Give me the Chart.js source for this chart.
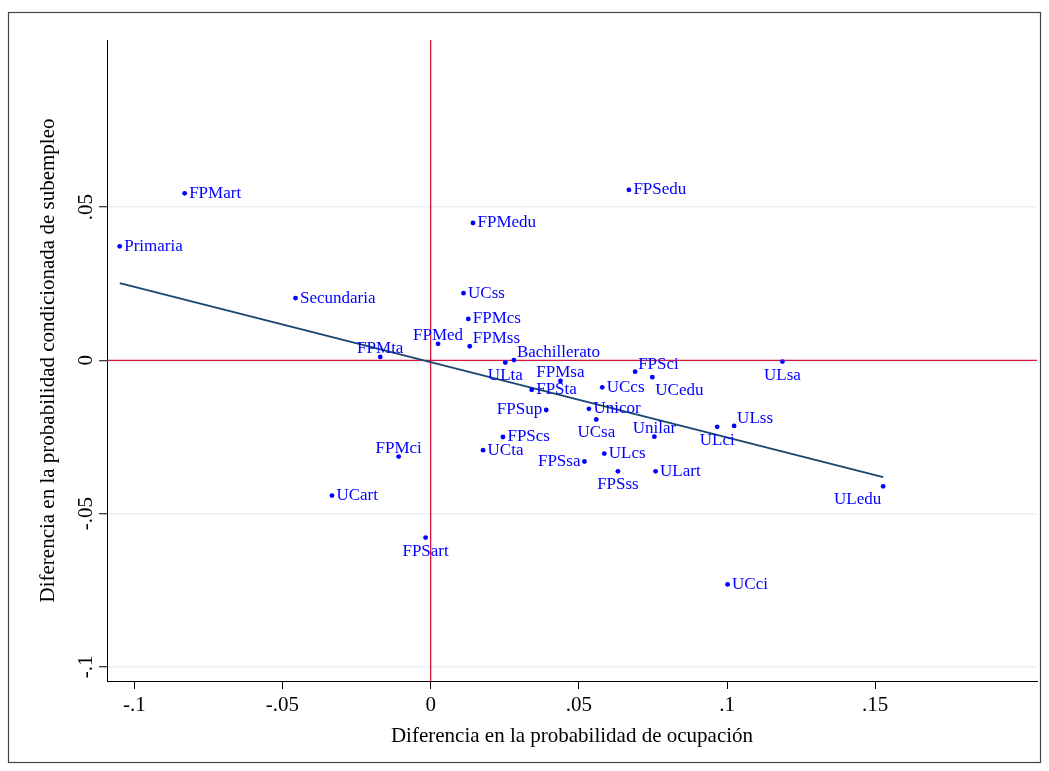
<!DOCTYPE html>
<html>
<head>
<meta charset="utf-8">
<script src="https://cdn.jsdelivr.net/npm/chart.js@4.4.1/dist/chart.umd.min.js"></script>
<style>
  html, body { margin: 0; padding: 0; background: #fff; }
  #wrap { width: 1049px; height: 771px; }
</style>
</head>
<body>
<div id="wrap"><canvas id="scatterChart" width="1049" height="771"></canvas></div>
<script>
// data
const categories = ['Primaria', 'FPMart', 'Secundaria', 'FPMta', 'FPMed', 'FPMedu', 'UCss', 'FPMcs', 'FPMss',
  'ULta', 'Bachillerato', 'FPSedu', 'FPSci', 'UCedu', 'FPMsa', 'FPSta', 'UCcs', 'FPSup', 'Unicor', 'UCsa',
  'FPScs', 'UCta', 'FPMci', 'UCart', 'FPSsa', 'ULcs', 'FPSss', 'Unilar', 'ULart', 'ULsa', 'ULci', 'ULss',
  'ULedu', 'FPSart', 'UCci'];
const occDiff = [-0.1049, -0.0830, -0.0456, -0.0170, 0.0025, 0.0143, 0.0111, 0.0127, 0.0132,
  0.0252, 0.0281, 0.0669, 0.0690, 0.0748, 0.0438, 0.0341, 0.0579, 0.0390, 0.0534, 0.0559,
  0.0244, 0.0177, -0.0108, -0.0333, 0.0519, 0.0586, 0.0632, 0.0755, 0.0759, 0.1187, 0.0967, 0.1024,
  0.1527, -0.0017, 0.1002];
const subDiff = [0.0372, 0.0545, 0.0203, 0.0011, 0.0054, 0.0448, 0.0219, 0.0135, 0.0046,
  -0.0007, 0.0001, 0.0556, -0.0037, -0.0055, -0.0067, -0.0096, -0.0088, -0.0162, -0.0158, -0.0193,
  -0.0250, -0.0293, -0.0314, -0.0441, -0.0330, -0.0304, -0.0362, -0.0249, -0.0362, -0.0004, -0.0217, -0.0214,
  -0.0411, -0.0578, -0.0731];
// fitted line end points
const fitX = [-0.1049, 0.1527];
const fitY = [0.0252, -0.0381];
const xTicks = [-0.1, -0.05, 0, 0.05, 0.1, 0.15];
const yTicks = [-0.1, -0.05, 0, 0.05];
const xRange = [-0.1092, 0.2046];
const yRange = [-0.1046, 0.1045];

// label clock positions (Stata style), default 3 o'clock
const labelPos = {
  FPMta: 12, FPMed: 12, FPMsa: 12, FPMci: 12, Unilar: 12,
  ULta: 6, UCsa: 6, FPSss: 6, ULsa: 6, ULci: 6, FPSart: 6,
  FPMss: 2, Bachillerato: 2, FPSci: 2, ULss: 2,
  UCedu: 5, ULedu: 7, FPSup: 9, FPSsa: 9
};

const blue = '#0000ff';
const red = '#d4143c';
const serif = '"Liberation Serif", "Times New Roman", serif';

function fmtTick(v) {
  if (v === 0) return '0';
  return (v < 0 ? '-' : '') + String(Math.abs(v)).replace(/^0/, '');
}

const framePlugin = {
  id: 'frame',
  beforeDraw(chart) {
    const ctx = chart.ctx;
    ctx.save();
    ctx.fillStyle = '#fff';
    ctx.fillRect(0, 0, chart.width, chart.height);
    ctx.strokeStyle = '#444';
    ctx.lineWidth = 1.2;
    ctx.strokeRect(8.5, 12.5, 1032, 750);
    ctx.restore();
  }
};

const labelPlugin = {
  id: 'pointLabels',
  afterDatasetsDraw(chart) {
    const ctx = chart.ctx;
    const xs = chart.scales.x, ys = chart.scales.y;
    ctx.save();
    ctx.font = '17px ' + serif;
    ctx.fillStyle = blue;
    ctx.textBaseline = 'middle';
    categories.forEach((name, i) => {
      const px = xs.getPixelForValue(occDiff[i]);
      const py = ys.getPixelForValue(subDiff[i]);
      const pos = labelPos[name] || 3;
      let tx = px, ty = py, align = 'left';
      if (pos === 3) { tx = px + 4.5; }
      else if (pos === 9) { tx = px - 4; align = 'right'; }
      else if (pos === 12) { align = 'center'; ty = py - 8.5; }
      else if (pos === 6) { align = 'center'; ty = py + 13.5; }
      else if (pos === 2) { tx = px + 3; ty = py - 7.5; }
      else if (pos === 5) { tx = px + 3; ty = py + 13; }
      else if (pos === 7) { tx = px - 2; ty = py + 13; align = 'right'; }
      ctx.textAlign = align;
      ctx.fillText(name, tx, ty);
    });
    // rotated y tick labels
    ctx.font = '21px ' + serif;
    ctx.fillStyle = '#000';
    ctx.textAlign = 'center';
    ctx.textBaseline = 'middle';
    yTicks.forEach(v => {
      const py = ys.getPixelForValue(v);
      ctx.save();
      ctx.translate(86, py);
      ctx.rotate(-Math.PI / 2);
      ctx.fillText(fmtTick(v), 0, 0);
      ctx.restore();
    });
    ctx.restore();
  }
};

window.addEventListener('load', function() {
  const ctx = document.getElementById('scatterChart').getContext('2d');
  new Chart(ctx, {
    type: 'scatter',
    data: {
      datasets: [
        {
          label: 'puntos',
          data: categories.map((c, i) => ({ x: occDiff[i], y: subDiff[i] })),
          pointRadius: 2.4,
          pointHoverRadius: 2.4,
          backgroundColor: blue,
          borderWidth: 0
        },
        {
          label: 'ajuste',
          type: 'line',
          data: fitX.map((v, i) => ({ x: v, y: fitY[i] })),
          borderColor: '#1a476f',
          borderWidth: 2,
          pointRadius: 0,
          fill: false
        },
        {
          label: 'x0',
          type: 'line',
          data: [{ x: 0, y: yRange[0] }, { x: 0, y: yRange[1] }],
          borderColor: red,
          borderWidth: 1.3,
          pointRadius: 0,
          fill: false
        },
        {
          label: 'y0',
          type: 'line',
          data: [{ x: xRange[0], y: 0 }, { x: xRange[1], y: 0 }],
          borderColor: red,
          borderWidth: 1.3,
          pointRadius: 0,
          fill: false
        }
      ]
    },
    options: {
      responsive: false,
      animation: false,
      layout: { padding: { left: 0, top: 40, right: 12, bottom: 0 } },
      plugins: {
        legend: { display: false },
        tooltip: { enabled: false }
      },
      scales: {
        x: {
          type: 'linear',
          min: xRange[0],
          max: xRange[1],
          afterBuildTicks: s => { s.ticks = xTicks.map(v => ({ value: v })); },
          afterFit: s => { s.height = 90; },
          ticks: {
            callback: v => fmtTick(v),
            color: '#000',
            font: { family: serif, size: 21 },
            padding: 4,
            maxRotation: 0,
            autoSkip: false
          },
          grid: {
            drawOnChartArea: false,
            drawTicks: true,
            tickLength: 8,
            tickColor: '#000',
            tickWidth: 1
          },
          border: { display: true, color: '#000', width: 1 },
          title: {
            display: true,
            text: 'Diferencia en la probabilidad de ocupación',
            color: '#000',
            font: { family: serif, size: 21 },
            padding: { top: 0, bottom: 22 }
          }
        },
        y: {
          type: 'linear',
          min: yRange[0],
          max: yRange[1],
          afterBuildTicks: s => { s.ticks = yTicks.map(v => ({ value: v })); },
          afterFit: s => { s.width = 107; },
          ticks: { display: false },
          grid: {
            color: '#eaf2f3',
            lineWidth: 1.5,
            drawTicks: true,
            tickLength: 8,
            tickColor: '#000',
            tickWidth: 1
          },
          border: { display: true, color: '#000', width: 1 },
          title: {
            display: true,
            text: 'Diferencia en la probabilidad condicionada de subempleo',
            color: '#000',
            font: { family: serif, size: 21 },
            padding: { top: 36, bottom: 0 }
          }
        }
      }
    },
    plugins: [framePlugin, labelPlugin]
  });
});
</script>
</body>
</html>
